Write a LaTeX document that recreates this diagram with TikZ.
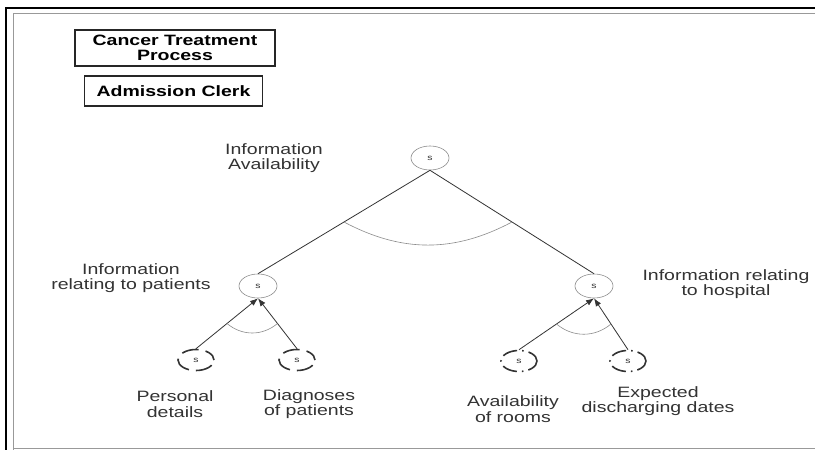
\documentclass[tikz,border=0pt]{standalone}
\usepackage{fontspec}
\setmainfont[FakeStretch=1.3]{Liberation Sans}
\usetikzlibrary{calc,shapes.geometric,arrows.meta}
\definecolor{ink}{HTML}{333333}
\definecolor{rim}{HTML}{8C8C8C}
\tikzset{
	goal/.style={ellipse, draw=rim, line width=0.6pt, minimum width=38pt, minimum height=24pt, inner sep=0pt, text=ink, font=\fontsize{8}{9}\selectfont},
	leaf/.style={ellipse, draw=ink, line width=1.6pt, minimum width=36pt, minimum height=21pt, inner sep=0pt, text=ink, font=\fontsize{8}{9}\selectfont},
	leafa/.style={leaf, dash pattern=on 17pt off 7pt, dash phase=4pt},
	leafb/.style={leaf, dash pattern=on 15pt off 5pt on 1.5pt off 5pt, dash phase=2pt},
	lbl/.style={align=center, text=ink, font=\fontsize{15}{15.5}\selectfont},
	head/.style={draw=black!85, line width=1.4pt, align=center, inner sep=0pt, font=\bfseries\fontsize{15}{15}\selectfont},
	link/.style={draw=ink, line width=0.8pt},
	andarc/.style={draw=rim, line width=0.6pt}
}

\begin{document}
\begin{tikzpicture}[x=1pt, y=-1pt, >={Latex[length=8pt, width=6pt]}]
		%%%%% FRAME %%%%%
		\useasboundingbox (0, 0) rectangle (815, 450);
		\fill[white] (0, 0) rectangle (815, 450);
		\draw[line width=2.5pt] (6, 450) -- (6, 8) -- (815, 8);
		\draw[line width=0.8pt, color=black!40] (13, 450) -- (13, 13) -- (815, 13);
		\draw[line width=0.8pt, color=black!40] (13, 448.5) -- (815, 448.5);
		
		%%%%% HEADERS %%%%%
		\node[head, minimum width=200pt, minimum height=36pt] (proc) at (175, 48) {Cancer Treatment\\Process};
		\node[head, minimum width=178pt, minimum height=30pt] (role) at (173.5, 91) {Admission Clerk};
		
		%%%%% GOALS %%%%%
		\node[goal] (avail) at (430, 158) {s};
		\node[goal] (pat) at (258, 286) {s};
		\node[goal] (hosp) at (594, 286) {s};
		
		\node[leafa] (pers) at (196, 360) {s};
		\node[leafa] (diag) at (297, 360) {s};
		\node[leafb] (room) at (519, 361) {s};
		\node[leafb] (disc) at (628, 361) {s};
		
		%%%%% LABELS %%%%%
		\node[lbl] (tavail) at (274, 158) {Information\\Availability};
		\node[lbl] (tpat) at (131, 278) {Information\\relating to patients};
		\node[lbl] (thosp) at (726, 284) {Information relating\\to hospital};
		\node[lbl] (tpers) at (175, 404) {Personal\\details};
		\node[lbl] (tdiag) at (309, 404) {Diagnoses\\of patients};
		\node[lbl] (troom) at (513, 409) {Availability\\of rooms};
		\node[lbl] (tdisc) at (658, 401) {Expected\\discharging dates};
		
		%%%%% LINKS %%%%%
		\draw[link] (avail.south) -- (pat.north);
		\draw[link] (avail.south) -- (hosp.north);
		\draw[andarc] ($(avail.south)!0.5!(pat.north)$) to[bend right=28] ($(avail.south)!0.5!(hosp.north)$);
		
		\draw[link, ->] (pers.north) -- (pat.south);
		\draw[link, ->] (diag.north) -- (pat.south);
		\draw[andarc] ($(pers.north)!0.5!(pat.south)$) to[bend right=40] ($(diag.north)!0.5!(pat.south)$);
		
		\draw[link, ->] (room.north) -- (hosp.south);
		\draw[link, ->] (disc.north) -- (hosp.south);
		\draw[andarc] ($(room.north)!0.5!(hosp.south)$) to[bend right=40] ($(disc.north)!0.5!(hosp.south)$);
		
		%%%%% END %%%%%
	\end{tikzpicture}
\end{document}
